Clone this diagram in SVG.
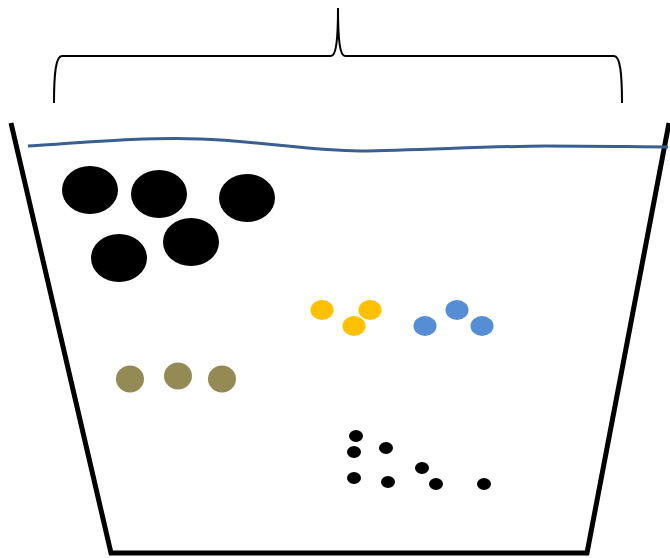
<svg xmlns="http://www.w3.org/2000/svg" width="670" height="558" viewBox="0 0 670 558">
<style>
.big{fill:#000}
.yel{fill:#FFC000}
.blu{fill:#558ED5}
.oli{fill:#948A54}
.dot{fill:#000}
</style>
<rect width="670" height="558" fill="#fff"/>
<g id="brace"><path d="M54,103 C54,72 56,56 62,56 L331,56 C336,56 338,40 338,8 C338,40 340,56 345,56 L614,56 C620,56 622,72 622,103" fill="none" stroke="#000" stroke-width="2"/></g>
<g id="container"><path d="M11,123 L111,553 L587,553 L669,123" fill="none" stroke="#000" stroke-width="5"/></g>
<g id="water"><path d="M28,146 C90,142 150,137 200,139 C260,141 310,151 360,151 C420,150 500,146 545,146 C600,146 640,147 668,147" fill="none" stroke="#3A5F8F" stroke-width="3"/></g>
<g id="large">
<ellipse class="big" cx="90" cy="190" rx="28" ry="24"/>
<ellipse class="big" cx="159" cy="194" rx="28" ry="24"/>
<ellipse class="big" cx="247" cy="198" rx="28" ry="24"/>
<ellipse class="big" cx="191" cy="242" rx="28" ry="24"/>
<ellipse class="big" cx="119" cy="258" rx="28" ry="24"/>
</g>
<g id="yellow">
<ellipse class="yel" cx="322" cy="310" rx="11.5" ry="10"/>
<ellipse class="yel" cx="370" cy="310" rx="11.5" ry="10"/>
<ellipse class="yel" cx="354" cy="326" rx="11.5" ry="10"/>
</g>
<g id="blue">
<ellipse class="blu" cx="425" cy="326" rx="11.5" ry="10"/>
<ellipse class="blu" cx="457" cy="310" rx="11.5" ry="10"/>
<ellipse class="blu" cx="482" cy="326" rx="11.5" ry="10"/>
</g>
<g id="olive">
<ellipse class="oli" cx="130" cy="379" rx="14" ry="13.5"/>
<ellipse class="oli" cx="178" cy="376" rx="14" ry="13.5"/>
<ellipse class="oli" cx="222" cy="379" rx="14" ry="13.5"/>
</g>
<g id="small">
<ellipse class="dot" cx="356" cy="436" rx="7" ry="6"/>
<ellipse class="dot" cx="354" cy="452" rx="7" ry="6"/>
<ellipse class="dot" cx="386" cy="448" rx="7" ry="6"/>
<ellipse class="dot" cx="422" cy="468" rx="7" ry="6"/>
<ellipse class="dot" cx="354" cy="478" rx="7" ry="6"/>
<ellipse class="dot" cx="388" cy="482" rx="7" ry="6"/>
<ellipse class="dot" cx="436" cy="484" rx="7" ry="6"/>
<ellipse class="dot" cx="484" cy="484" rx="7" ry="6"/>
</g>
</svg>
